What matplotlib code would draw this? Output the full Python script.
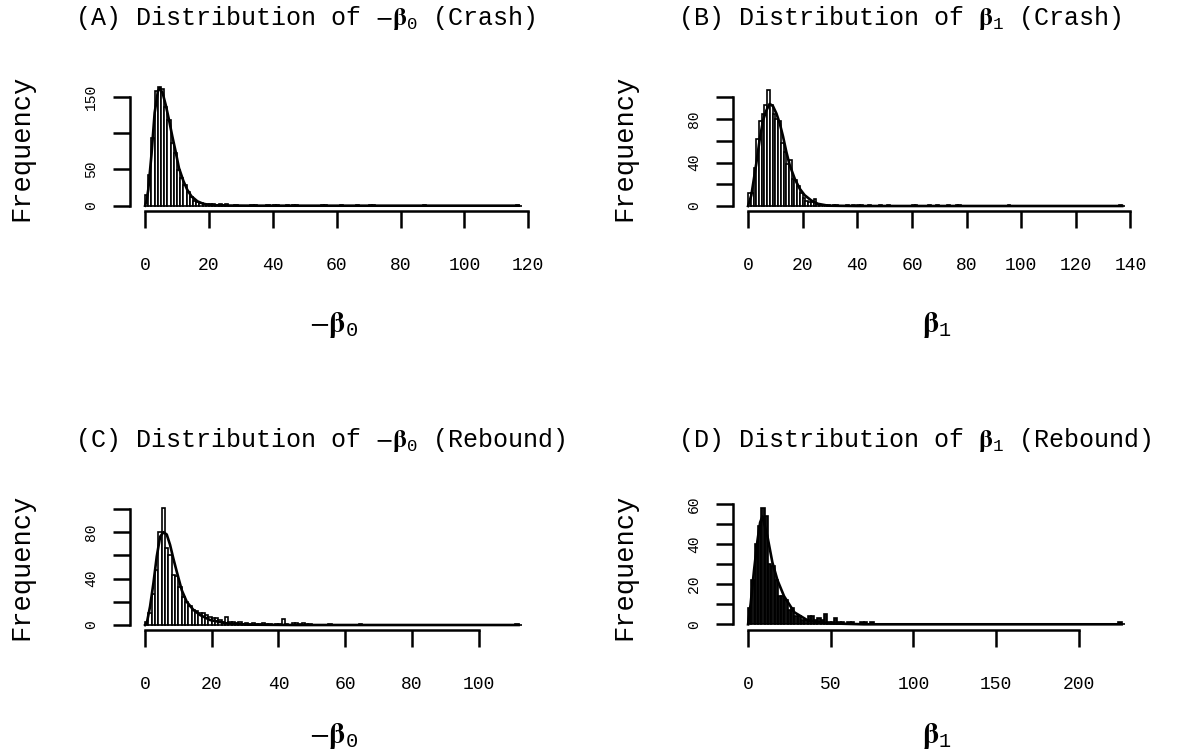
import numpy as np
import matplotlib.pyplot as plt

plt.rcParams['font.family'] = ['Liberation Mono', 'DejaVu Sans Mono']
plt.rcParams['mathtext.fontset'] = 'custom'
plt.rcParams['mathtext.rm'] = 'STIXGeneral'
plt.rcParams['mathtext.bf'] = 'STIXGeneral:bold'
plt.rcParams['mathtext.tt'] = 'Liberation Mono'

# -beta0, crash: unit bins from 0, leading bins then isolated single counts
crash_b0_head = [15, 42, 93, 158, 163, 160, 136, 118, 86, 72, 49, 38, 28, 19, 12,
                 7, 5, 4, 3, 2, 2, 2, 1, 2, 1, 3, 0, 0, 1]
crash_b0_tail = [33, 34, 38, 40, 41, 44, 46, 47, 55, 56, 61, 66, 70, 71, 87, 116]
crash_b0_curve_x = [0, 0.5, 1, 2, 3, 4, 4.6, 5.5, 6.5, 7.5, 8.5, 9.5, 10.6, 12, 13.2,
                    14.5, 16.4, 18, 19.5, 22, 26, 35, 117]
crash_b0_curve_y = [0, 8, 22, 70, 128, 157, 162, 155, 138, 118, 96, 76, 52, 34, 22,
                    13, 6, 3, 1.5, 0.6, 0.2, 0, 0]

# beta1, crash
crash_b1_head = [12, 12, 35, 62, 78, 85, 93, 107, 93, 85, 80, 78, 58, 50, 39, 42,
                 25, 24, 18, 12, 7, 5, 4, 4, 6, 2, 1]
crash_b1_tail = [28, 29, 31, 32, 36, 38, 40, 41, 44, 48, 51, 60, 61, 66, 69, 73,
                 76, 77, 95, 136]
crash_b1_curve_x = [0, 1.2, 3.0, 4.3, 5.5, 6.7, 7.9, 9.1, 10.4, 11.6, 12.8, 14.0,
                    15.2, 17.1, 18.9, 20.7, 23.2, 25.6, 29.3, 40, 137]
crash_b1_curve_y = [0, 10, 39, 62, 79, 88, 94, 92, 85, 76, 64, 50, 38, 25, 16, 10,
                    5, 2, 0.3, 0, 0]

# -beta0, rebound
rebound_b0_head = [3, 10, 27, 47, 80, 101, 66, 60, 43, 42, 33, 24, 20, 16, 13, 12,
                   10, 10, 9, 7, 6, 6, 4, 3, 7, 3, 3, 2, 3, 1, 2, 1, 2, 1, 1, 2,
                   1, 1, 0, 1, 1, 5, 1, 0, 2, 2, 1, 2, 1, 1]
rebound_b0_tail = [55, 64, 111]
rebound_b0_curve_x = [0, 0.5, 1.5, 2.5, 3.5, 4.5, 5.5, 6.5, 7.5, 8.5, 9.5, 11, 12.5,
                      14.5, 16.5, 19.5, 24.5, 31.5, 45, 112]
rebound_b0_curve_y = [0, 1.4, 16, 36, 59, 76, 80, 78, 69, 57, 46, 30, 20, 13, 8.6,
                      4.3, 1.4, 0.3, 0, 0]

# beta1, rebound: bins of width 2
rebound_b1_head = [8, 22, 40, 49, 58, 54, 30, 29, 22, 14, 14, 12, 7, 8, 4, 4, 2, 2,
                   4, 4, 2, 3, 2, 5, 1, 1, 3, 1, 1, 0, 1, 1, 0, 0, 1, 1, 0, 1]
rebound_b1_tail = [224]
rebound_b1_curve_x = [0, 1.6, 3.6, 5.7, 7.3, 8.7, 11.7, 14.7, 17.8, 21.8, 28, 36,
                      48, 70, 226]
rebound_b1_curve_y = [0, 10.5, 27, 42, 51, 54, 44, 31, 22, 14, 6, 2, 0.5, 0, 0]

W, H = 1201, 753
fig = plt.figure(figsize=(W / 100, H / 100), dpi=100)


def counts_from(head, tail, width, nbins):
    counts = np.zeros(nbins)
    counts[:len(head)] = head
    for v in tail:
        counts[int(v // width)] += 1
    return counts


def panel(box, counts, width, cx, cy, ylim, xticks, yticks, ylabels,
          title, title_x, title_y, xlab, xlab_y, fill='white'):
    l, t, r, b = box
    ax = fig.add_axes([l / W, 1 - b / H, (r - l) / W, (b - t) / H])
    edges = np.arange(len(counts) + 1) * width
    ax.bar(edges[:-1], counts, width=width, align='edge', facecolor=fill,
           edgecolor='black', linewidth=1.2)
    ax.plot(cx, cy, color='black', linewidth=1.9)
    xmax = edges[-1]
    ax.set_xlim(-0.04 * xmax, 1.04 * xmax)
    ax.set_ylim(*ylim)
    for s in ['top', 'right']:
        ax.spines[s].set_visible(False)
    for s in ['left', 'bottom']:
        ax.spines[s].set_linewidth(1.8)
    ax.spines['left'].set_bounds(yticks[0], yticks[-1])
    ax.spines['bottom'].set_bounds(xticks[0], xticks[-1])
    ax.set_xticks(xticks)
    ax.set_xticklabels([str(x) for x in xticks], fontsize=13)
    ax.set_yticks(yticks)
    ax.set_yticklabels(ylabels, fontsize=10.5, rotation=90, va='center')
    ax.tick_params(axis='both', direction='out', length=12, width=1.8)
    ax.tick_params(axis='x', pad=21)
    ax.tick_params(axis='y', pad=11)
    ax.set_ylabel('Frequency', fontsize=19.5)
    ax.yaxis.set_label_coords(-0.235, 0.48)
    ax.set_xlabel(xlab, fontsize=21, va='center')
    ax.xaxis.set_label_coords(0.5, xlab_y)
    fig.text(title_x / W, 1 - title_y / H, title, fontsize=18, ha='left', va='center')
    return ax


nb0 = r'$-\mathbf{\beta}_{\mathtt{0}}$'
nb1 = r'$\mathbf{\beta}_{\mathtt{1}}$'

panel((130, 80, 537, 211), counts_from(crash_b0_head, crash_b0_tail, 1, 118), 1,
      crash_b0_curve_x, crash_b0_curve_y, (-7.3, 173),
      [0, 20, 40, 60, 80, 100, 120], [0, 50, 100, 150], ['0', '50', '', '150'],
      '(A) Distribution of ' + nb0 + ' (Crash)', 75, 18, nb0, -0.87)

panel((733, 80, 1140, 211), counts_from(crash_b1_head, crash_b1_tail, 1, 138), 1,
      crash_b1_curve_x, crash_b1_curve_y, (-4.6, 116),
      [0, 20, 40, 60, 80, 100, 120, 140], [0, 20, 40, 60, 80, 100],
      ['0', '', '40', '', '80', ''],
      '(B) Distribution of ' + nb1 + ' (Crash)', 678, 18, nb1, -0.87)

panel((130, 499, 537, 630), counts_from(rebound_b0_head, rebound_b0_tail, 1, 113), 1,
      rebound_b0_curve_x, rebound_b0_curve_y, (-4.3, 108.6),
      [0, 20, 40, 60, 80, 100], [0, 20, 40, 60, 80, 100],
      ['0', '', '40', '', '80', ''],
      '(C) Distribution of ' + nb0 + ' (Rebound)', 75, 440, nb0, -0.81)

panel((733, 499, 1140, 630), counts_from(rebound_b1_head, rebound_b1_tail, 2, 114), 2,
      rebound_b1_curve_x, rebound_b1_curve_y, (-2.85, 62.7),
      [0, 50, 100, 150, 200], [0, 10, 20, 30, 40, 50, 60],
      ['0', '', '20', '', '40', '', '60'],
      '(D) Distribution of ' + nb1 + ' (Rebound)', 678, 440, nb1, -0.81, fill='#111111')

fig.savefig('out.png', dpi=100)
